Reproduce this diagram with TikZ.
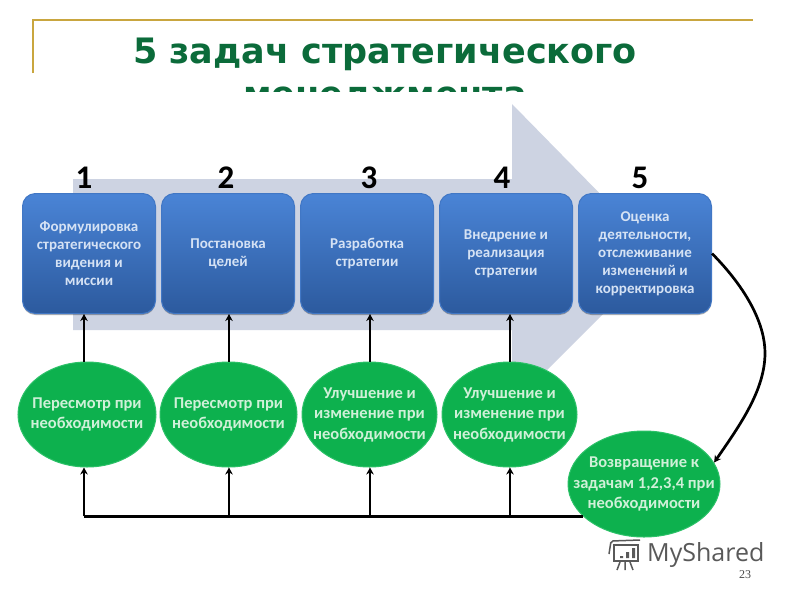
\documentclass[tikz,border=0pt]{standalone}
\usepackage{fontspec}
\setmainfont{Carlito}
\newfontfamily\titlefont{DejaVu Sans}
\newfontfamily\numfont{Liberation Serif}
\newfontfamily\logofont{Open Sans}
\usetikzlibrary{arrows.meta,shapes.geometric,positioning,shadows}
\definecolor{gold}{HTML}{C9A63F}
\definecolor{titlegreen}{HTML}{0B6B3A}
\definecolor{arrowfill}{HTML}{CDD3E2}
\definecolor{boxtop}{HTML}{4A84D6}
\definecolor{boxbot}{HTML}{2C5A9E}
\definecolor{ellgreen}{HTML}{0DB14E}
\definecolor{ellglow}{HTML}{2CC168}
\definecolor{boxtext}{HTML}{D5E2F4}
\definecolor{elltext}{HTML}{CFF0D8}
\tikzset{
 x=1pt,y=-1pt,
 taskbox/.style={draw=boxtop!70!boxbot,line width=1pt,rounded corners=13pt,minimum width=133pt,minimum height=120pt,
   top color=boxtop,bottom color=boxbot,text=boxtext,align=center,font=\fontsize{15}{18}\selectfont\bfseries,inner sep=0pt,
   drop shadow={shadow xshift=0pt,shadow yshift=-1.5pt,opacity=.3,fill=black}},
 goal/.style={ellipse,draw=ellglow,line width=1pt,fill=ellgreen,text=elltext,align=center,inner sep=-30pt,
   font=\fontsize{16.5}{20.5}\selectfont\bfseries},
 num/.style={font=\fontsize{33}{33}\selectfont\bfseries,text=black,inner sep=0pt},
 conn/.style={draw=black,line width=2.7pt,-{Stealth[length=7pt,width=7.5pt]}},
 plainline/.style={draw=black,line width=2.7pt},
}
\begin{document}
\begin{tikzpicture}
\useasboundingbox (0,0) rectangle (800,600);
\fill[white] (0,0) rectangle (800,600);
% frame
\draw[gold,line width=1.2pt] (33,73) -- (33,20) -- (753,20);
% title
\node[font=\titlefont\fontsize{35}{43}\selectfont\bfseries,text=titlegreen,align=center,inner sep=0pt] (title) at (385,75)
 {5 задач стратегического\\менеджмента};
\fill[white] (0,92) rectangle (800,180);
% big arrow
\fill[arrowfill] (73,179) -- (512,179) -- (512,104) -- (661,256) -- (512,405) -- (512,330) -- (73,330) -- cycle;
% numbers
\node[num] (n1) at (84,178) {1};
\node[num] (n2) at (226,178) {2};
\node[num] (n3) at (369,178) {3};
\node[num] (n4) at (502,178) {4};
\node[num] (n5) at (640,178) {5};
% boxes
\node[taskbox] (b1) at (89,253.5) {Формулировка\\стратегического\\видения и\\миссии};
\node[taskbox] (b2) at (228,253.5) {Постановка\\целей};
\node[taskbox] (b3) at (367,253.5) {Разработка\\стратегии};
\node[taskbox] (b4) at (506,253.5) {Внедрение и\\реализация\\стратегии};
\node[taskbox] (b5) at (645,253.5) {Оценка\\деятельности,\\отслеживание\\изменений и\\корректировка};
% ellipses
\node[goal,minimum width=138pt,minimum height=105pt] (e1) at (87,414.5) {Пересмотр при\\необходимости};
\node[goal,minimum width=137pt,minimum height=105pt] (e2) at (228.5,414.5) {Пересмотр при\\необходимости};
\node[goal,minimum width=135pt,minimum height=105pt] (e3) at (369.5,414.5) {Улучшение и\\изменение при\\необходимости};
\node[goal,minimum width=135pt,minimum height=105pt] (e4) at (509.5,414.5) {Улучшение и\\изменение при\\необходимости};
\node[goal,minimum width=152pt,minimum height=106pt] (e5) at (644,484) {Возвращение к\\задачам 1,2,3,4 при\\необходимости};
% connector columns
\coordinate (x1) at (84,0);
\coordinate (x2) at (229,0);
\coordinate (x3) at (370,0);
\coordinate (x4) at (510,0);
\coordinate (bus) at (e5.208);
\draw[conn] (x1 |- e1.north) -- (x1 |- b1.south);
\draw[conn] (x2 |- e2.north) -- (x2 |- b2.south);
\draw[conn] (x3 |- e3.north) -- (x3 |- b3.south);
\draw[conn] (x4 |- e4.north) -- (x4 |- b4.south);
% bottom bus
\draw[plainline] (bus) -- (x1 |- bus);
\draw[conn] (x1 |- bus) -- (x1 |- e1.south);
\draw[conn] (x2 |- bus) -- (x2 |- e2.south);
\draw[conn] (x3 |- bus) -- (x3 |- e3.south);
\draw[conn] (x4 |- bus) -- (x4 |- e4.south);
% feedback curve
\coordinate (f0) at (765,353);
\draw[conn] (b5.east) .. controls (748,290) and (765,325) .. (f0) .. controls (765,390) and (740,425) .. (e5.17);
% footer
\node[font=\logofont\fontsize{25}{25}\selectfont,text=black!65,inner sep=0pt,anchor=west] (ms) at (647,555) {MyShared};
\node[font=\numfont\fontsize{12}{12}\selectfont,text=black!70,inner sep=0pt] (pg) at (745,575) {23};
% logo
\begin{scope}[black!65,line width=1.5pt]
\draw (614,545) rectangle (638,561);
\draw[rounded corners=2pt] (609,554) -- (611,541) -- (640,540);
\fill (620,558) rectangle (623,556) (626,558) rectangle (629,552) (632,558) rectangle (635,548);
\draw (620,562) -- (617,570) (625,562) -- (625,570) (630,562) -- (633,570);
\end{scope}
\end{tikzpicture}
\end{document}
